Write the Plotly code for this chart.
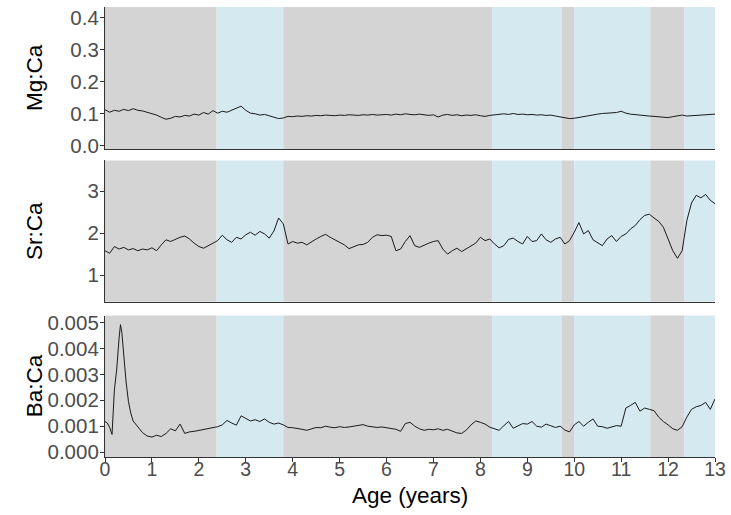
import plotly.graph_objects as go
from plotly.subplots import make_subplots

# ---------------- data ----------------
age = [round(0.1 * i, 1) for i in range(131)]

mg_ca = [
    0.112, 0.104, 0.110, 0.107, 0.113, 0.109, 0.115, 0.110, 0.108, 0.104,
    0.101, 0.095, 0.088, 0.082, 0.085, 0.091, 0.089, 0.094, 0.092, 0.098,
    0.095, 0.103, 0.098, 0.109, 0.101, 0.107, 0.104, 0.111, 0.116, 0.123,
    0.110, 0.101, 0.099, 0.095, 0.097, 0.093, 0.090, 0.084, 0.086, 0.091,
    0.090, 0.092, 0.091, 0.093, 0.092, 0.094, 0.093, 0.095, 0.094, 0.093,
    0.095, 0.094, 0.096, 0.095, 0.094, 0.096, 0.095, 0.097, 0.095, 0.096,
    0.097, 0.095, 0.098, 0.096, 0.099, 0.097, 0.096, 0.098, 0.095, 0.094,
    0.096, 0.089, 0.095, 0.097, 0.094, 0.096, 0.093, 0.095, 0.094, 0.096,
    0.093, 0.091, 0.094, 0.096, 0.097, 0.099, 0.097, 0.100, 0.097, 0.098,
    0.096, 0.097, 0.095, 0.096, 0.094, 0.095, 0.092, 0.090, 0.087, 0.084,
    0.085, 0.088, 0.090, 0.093, 0.096, 0.098, 0.100, 0.101, 0.102, 0.103,
    0.107, 0.101, 0.098, 0.096, 0.094, 0.093, 0.092, 0.091, 0.089, 0.088,
    0.087, 0.090, 0.092, 0.095, 0.092, 0.093, 0.094, 0.095, 0.094, 0.096, 0.098,
]

sr_ca = [
    1.58, 1.52, 1.68, 1.62, 1.66, 1.60, 1.63, 1.58, 1.62, 1.60,
    1.65, 1.58, 1.72, 1.84, 1.80, 1.86, 1.90, 1.93, 1.86, 1.76,
    1.68, 1.64, 1.70, 1.76, 1.82, 1.95, 1.84, 1.78, 1.90, 1.86,
    1.96, 2.02, 1.95, 2.04, 1.98, 1.88, 2.05, 2.36, 2.22, 1.74,
    1.80, 1.76, 1.78, 1.72, 1.80, 1.86, 1.92, 1.97, 1.90, 1.84,
    1.80, 1.72, 1.63, 1.68, 1.72, 1.73, 1.78, 1.90, 1.96, 1.94,
    1.95, 1.92, 1.58, 1.62, 1.80, 1.94, 1.70, 1.66, 1.72, 1.76,
    1.80, 1.82, 1.62, 1.50, 1.58, 1.64, 1.56, 1.62, 1.70, 1.76,
    1.90, 1.82, 1.86, 1.74, 1.65, 1.70, 1.85, 1.88, 1.80, 1.74,
    1.92, 1.80, 1.82, 1.98, 1.84, 1.78, 1.86, 1.90, 1.74, 1.82,
    2.02, 2.25, 1.98, 2.06, 1.84, 1.78, 1.70, 1.86, 1.94, 1.80,
    1.92, 1.98, 2.10, 2.18, 2.32, 2.42, 2.45, 2.36, 2.28, 2.14,
    1.86, 1.58, 1.40, 1.58, 2.30, 2.72, 2.90, 2.84, 2.92, 2.78, 2.70,
]

ba_age = [0.0, 0.05, 0.1, 0.15, 0.2, 0.25, 0.3, 0.33, 0.36, 0.4, 0.45, 0.5,
          0.55, 0.6, 0.7, 0.8, 0.9] + [round(1.0 + 0.1 * i, 1) for i in range(121)]

ba_ca = [
    0.00118, 0.00112, 0.00095, 0.00068, 0.00240, 0.00320, 0.00440, 0.00492,
    0.00460, 0.00370, 0.00270, 0.00195, 0.00150, 0.00120, 0.00098, 0.00075, 0.00062,
    0.00058, 0.00065, 0.00060, 0.00072, 0.00090, 0.00082, 0.00108, 0.00072, 0.00078, 0.00080,
    0.00084, 0.00088, 0.00092, 0.00095, 0.00098, 0.00105, 0.00122, 0.00112, 0.00104, 0.00140,
    0.00130, 0.00120, 0.00125, 0.00118, 0.00128, 0.00115, 0.00108, 0.00112, 0.00105, 0.00095,
    0.00094, 0.00092, 0.00088, 0.00084, 0.00090, 0.00095, 0.00094, 0.00100, 0.00096, 0.00094,
    0.00098, 0.00095, 0.00097, 0.00100, 0.00104, 0.00106, 0.00100, 0.00098, 0.00095, 0.00097,
    0.00094, 0.00092, 0.00088, 0.00080, 0.00110, 0.00115, 0.00100, 0.00090, 0.00084, 0.00088,
    0.00086, 0.00090, 0.00084, 0.00088, 0.00080, 0.00074, 0.00072, 0.00085, 0.00105, 0.00120,
    0.00115, 0.00108, 0.00096, 0.00090, 0.00084, 0.00102, 0.00118, 0.00092, 0.00100, 0.00110,
    0.00108, 0.00118, 0.00100, 0.00096, 0.00108, 0.00102, 0.00095, 0.00100, 0.00085, 0.00078,
    0.00105, 0.00118, 0.00100, 0.00115, 0.00128, 0.00100, 0.00098, 0.00092, 0.00096, 0.00102,
    0.00100, 0.00170, 0.00180, 0.00192, 0.00158, 0.00170, 0.00165, 0.00160, 0.00135, 0.00118,
    0.00105, 0.00090, 0.00084, 0.00098, 0.00135, 0.00165, 0.00175, 0.00180, 0.00192, 0.00165, 0.00205,
]

# shaded periods (start, end, kind)
period_start = [0.0, 2.38, 3.80, 8.25, 9.73, 10.00, 11.62, 12.35]
period_end = [2.38, 3.80, 8.25, 9.73, 10.00, 11.62, 12.35, 13.00]
period_kind = ["grey", "blue", "grey", "blue", "grey", "blue", "grey", "blue"]

x_ticks = list(range(0, 14))
mg_ticks = [0.0, 0.1, 0.2, 0.3, 0.4]
sr_ticks = [1, 2, 3]
ba_ticks = [0.000, 0.001, 0.002, 0.003, 0.004, 0.005]

# ---------------- figure ----------------
shade_col = {"grey": "#d4d4d4", "blue": "#d5e9f1"}
fig = make_subplots(rows=3, cols=1, shared_xaxes=True)

series = [(age, mg_ca), (age, sr_ca), (ba_age, ba_ca)]
for r, (xs, ys) in enumerate(series, start=1):
    fig.add_trace(go.Scatter(x=xs, y=ys, mode="lines",
                             line=dict(color="#1a1a1a", width=1),
                             showlegend=False, hoverinfo="skip"), row=r, col=1)
for r in range(1, 4):
    for s, e, k in zip(period_start, period_end, period_kind):
        fig.add_vrect(x0=s, x1=e, row=r, col=1, fillcolor=shade_col[k],
                      line_width=0, layer="below", opacity=1)

tick_font = dict(family="Liberation Sans, Arial, sans-serif", size=20.5, color="#4d4d4d")
axis_common = dict(showgrid=False, zeroline=False, showline=True, linecolor="#333333",
                   linewidth=1.2, ticks="outside", ticklen=4, tickcolor="#333333",
                   tickfont=tick_font)

domains = [[0.684, 1.0], [0.345, 0.659], [0.0, 0.3143]]
yranges = [[-0.012, 0.434], [0.365, 3.73], [-0.00019, 0.00527]]
yticks = [mg_ticks, sr_ticks, ba_ticks]
yfmt = [".1f", "d", ".3f"]
for i in range(3):
    yname = "yaxis" if i == 0 else f"yaxis{i+1}"
    xname = "xaxis" if i == 0 else f"xaxis{i+1}"
    fig.layout[yname].update(domain=domains[i], range=yranges[i], tickvals=yticks[i],
                             tickformat=yfmt[i], ticklabelstandoff=-3, **axis_common)
    xa = dict(axis_common)
    if i < 2:
        xa.update(ticks="", showticklabels=False)
    else:
        xa.update(tickfont=dict(tick_font, size=19.5))
    fig.layout[xname].update(range=[0, 13], tickvals=x_ticks, ticklabelstandoff=-10, **xa)

title_font = dict(family="Liberation Sans, Arial, sans-serif", size=22.5, color="#000000")
ytitles = ["Mg:Ca", "Sr:Ca", "Ba:Ca"]
for i, t in enumerate(ytitles):
    yc = (domains[i][0] + domains[i][1]) / 2
    fig.add_annotation(text=t, xref="paper", yref="paper", x=0, y=yc, xshift=-71,
                       xanchor="center", yanchor="middle", textangle=-90,
                       showarrow=False, font=title_font)
fig.add_annotation(text="Age (years)", xref="paper", yref="paper", x=0.5, y=0,
                   yshift=-38, xanchor="center", yanchor="middle",
                   showarrow=False, font=title_font)

fig.update_layout(width=731, height=515, margin=dict(l=105, r=16, t=2, b=58),
                  paper_bgcolor="white", plot_bgcolor="white")

fig.write_html("out.html", config={"displayModeBar": False},
               post_script="document.body.style.margin='0';")
